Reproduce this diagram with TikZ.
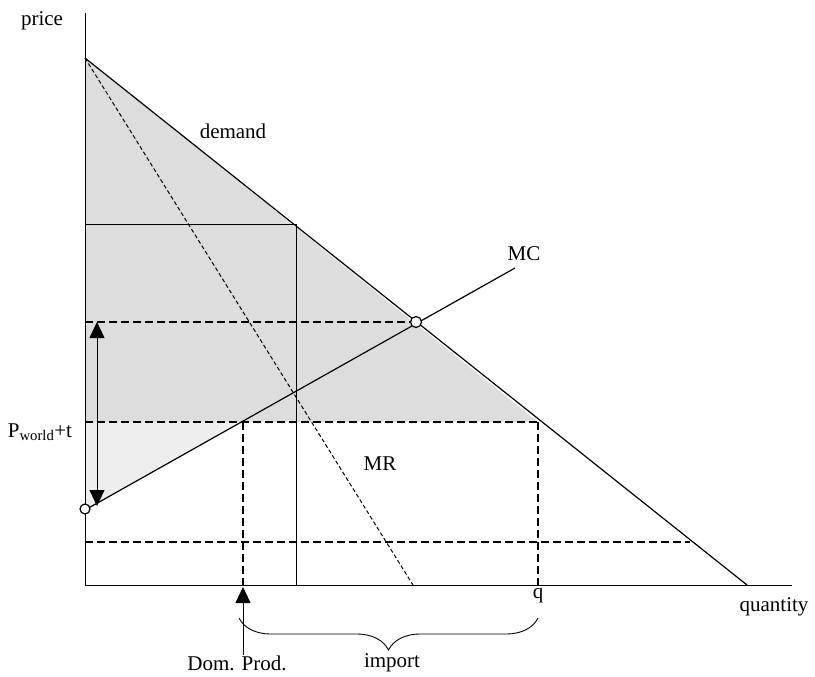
\documentclass[tikz,border=0pt]{standalone}
\usepackage{fontspec}
\setmainfont{Liberation Serif}
\usetikzlibrary{arrows.meta,decorations.pathreplacing}
\begin{document}
\begin{tikzpicture}[x=1pt,y=-1pt,
  axis/.style={line width=0.8pt},
  curve/.style={line width=1.2pt},
  guide/.style={line width=2.8pt, dash pattern=on 8pt off 4pt},
  mrline/.style={line width=1pt, dash pattern=on 4pt off 2.5pt},
  lbl/.style={font=\fontsize{21}{23}\selectfont, inner sep=0pt},
  opendot/.style={circle, draw, fill=white, line width=1.2pt, minimum size=11pt, inner sep=0pt},
  tip/.style={-{Triangle[length=16pt,width=15pt]}, line width=0.9pt},
  dbltip/.style={{Triangle[length=16pt,width=15pt]}-{Triangle[length=16pt,width=15pt]}, line width=0.9pt}]
\useasboundingbox (0,0) rectangle (815,677);
% key points
\coordinate (O) at (85,585);
\coordinate (Ytop) at (85,13);
\coordinate (Xend) at (792,585);
\coordinate (D0) at (85,58);
\coordinate (D1) at (747,585);
\coordinate (Pt) at (538,422);
\coordinate (Mt) at (243,422);
\coordinate (P0) at (85,422);
\coordinate (E0) at (85,322);
\coordinate (MC0) at (85,510);
\coordinate (MC1) at (515,268);
\coordinate (B) at (296,224);
\coordinate (By) at (85,224);
\coordinate (Bx) at (296,585);
\coordinate (MR1) at (413,585);
\coordinate (L0) at (85,542);
\coordinate (L1) at (690,542);
\coordinate (Mx) at (243,585);
\coordinate (Qx) at (538,585);
\coordinate (A0) at (97,322);
\coordinate (A1) at (97,506);
\coordinate (DPtip) at (243,587);
\coordinate (BrL) at (239,618);
\coordinate (BrR) at (538,618);
% shading
\fill[gray!27] (D0) -- (Pt) -- (P0) -- cycle;
\fill[gray!13] (P0) -- (Mt) -- (MC0) -- cycle;
% axes and box
\draw[axis] (Ytop) -- (O) -- (Xend);
\draw[axis] (By) -- (B) -- (Bx);
% guides
\draw[guide] (E0) -- (416,322);
\draw[guide] (P0) -- (Pt);
\draw[guide] (L0) -- (L1);
\draw[guide] (Mt) -- (Mx);
\draw[guide] (Pt) -- (Qx);
% curves
\draw[mrline] (D0) -- (MR1);
\draw[curve] (D0) -- (D1);
\draw[curve] (MC0) -- (MC1);
% arrows
\draw[dbltip] (A0) -- (A1);
% circles
\node[opendot] (E) at (416,322) {};
\node[opendot, minimum size=10pt] (C0) at (85,509) {};
% labels
\node[lbl] (price) at (42,21) {price};
\node[lbl] (demand) at (233,131) {demand};
\node[lbl] (mc) at (524,254) {MC};
\node[lbl] (mr) at (380,464) {MR};
\node[lbl] (pw) at (40,432) {P\textsubscript{world}+t};
\node[lbl] (q) at (538,596) {q};
\node[lbl] (quantity) at (774,607) {quantity};
\node[lbl] (dp) at (237,663) {Dom. Prod.};
\node[lbl] (imp) at (392,663) {import};
\draw[tip] (dp.north -| DPtip) -- (DPtip);
\draw[decorate, decoration={brace, mirror, amplitude=32pt}, line width=0.9pt] (BrL) -- (BrR);
\end{tikzpicture}
\end{document}
